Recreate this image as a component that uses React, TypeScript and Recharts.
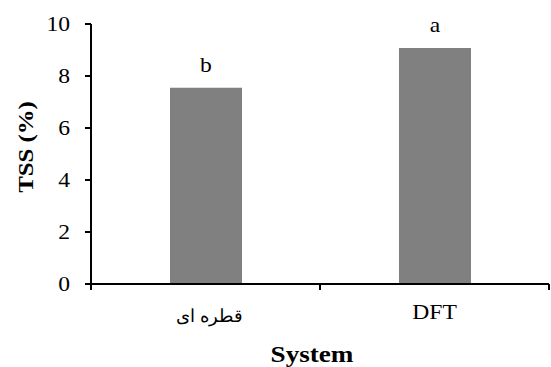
import React from 'react';
import { BarChart, Bar, XAxis, YAxis, LabelList } from 'recharts';

const categories = ['قطره ای', 'DFT'];
const tssValues = [7.55, 9.08];
const groupLetters = ['b', 'a'];
const barPositions = [0.5, 1.5];
const xTicks = [0, 0.5, 1, 1.5, 2];
const yTicks = [0, 2, 4, 6, 8, 10];

const FONT = 'Liberation Serif, DejaVu Serif, serif';

const data = categories.map((name, i) => ({
  pos: barPositions[i],
  name,
  tss: tssValues[i],
  group: groupLetters[i],
}));

// the source picture is a bit stretched sideways, so text is widened a little
const WideText = ({ x, y, anchor = 'middle', size = 20, bold = false, rotate = 0, stretch = 1.18, dy, children }: any) => (
  <text
    transform={`translate(${x}, ${y}) rotate(${rotate}) scale(${stretch}, 1)`}
    textAnchor={anchor}
    dy={dy}
    fill="#000"
    fontSize={size}
    fontWeight={bold ? 'bold' : 'normal'}
    style={{ fontFamily: FONT }}
  >
    {children}
  </text>
);

const isArabic = (s: string) => /[\u0600-\u06FF]/.test(s);

// integer ticks are the category borders, half ticks carry the category names
const XTick = ({ x, y, payload }: any) => {
  const v = payload.value;
  if (Number.isInteger(v)) {
    return <line x1={x} x2={x} y1={y} y2={y + 6} stroke="#000" strokeWidth={2} />;
  }
  const name = categories[barPositions.indexOf(v)];
  const arabic = isArabic(name);
  return (
    <WideText x={x + (arabic ? 4 : 0)} y={y + (arabic ? 38 : 35)} size={arabic ? 18 : 20} stretch={arabic ? 1 : 1.18}>
      {name}
    </WideText>
  );
};

const YTick = ({ x, y, payload }: any) => (
  <WideText x={x} y={y} anchor="end" dy="0.355em" size={20}>
    {payload.value}
  </WideText>
);

const GroupLabel = ({ x, y, width, value }: any) => (
  <WideText x={x + width / 2} y={y - 16} size={20}>
    {value}
  </WideText>
);

export default function App() {
  return (
    <div style={{ position: 'absolute', left: 0, top: 0, background: '#fff' }}>
      <BarChart width={551} height={367} data={data} margin={{ top: 24, right: 2, left: 0, bottom: 0 }}>
        <XAxis
          dataKey="pos"
          type="number"
          domain={[0, 2]}
          ticks={xTicks}
          interval={0}
          height={83}
          tickSize={0}
          tickMargin={0}
          tickLine={false}
          axisLine={{ stroke: '#000', strokeWidth: 2 }}
          tick={<XTick />}
          label={{
            content: ({ viewBox }: any) => (
              <WideText x={viewBox.x + viewBox.width / 2 - 8} y={viewBox.y + 78} size={23} bold>
                System
              </WideText>
            ),
          }}
        />
        <YAxis
          domain={[0, 10]}
          ticks={yTicks}
          width={91}
          tickSize={6}
          tickMargin={15}
          axisLine={{ stroke: '#000', strokeWidth: 2 }}
          tickLine={{ stroke: '#000', strokeWidth: 2 }}
          tick={<YTick />}
          label={{
            content: ({ viewBox }: any) => (
              <WideText x={viewBox.x + 33} y={viewBox.y + viewBox.height / 2 - 7} size={21} bold rotate={-90}>
                TSS (%)
              </WideText>
            ),
          }}
        />
        <Bar dataKey="tss" fill="#808080" barSize={72} isAnimationActive={false}>
          <LabelList dataKey="group" content={<GroupLabel />} />
        </Bar>
      </BarChart>
    </div>
  );
}
